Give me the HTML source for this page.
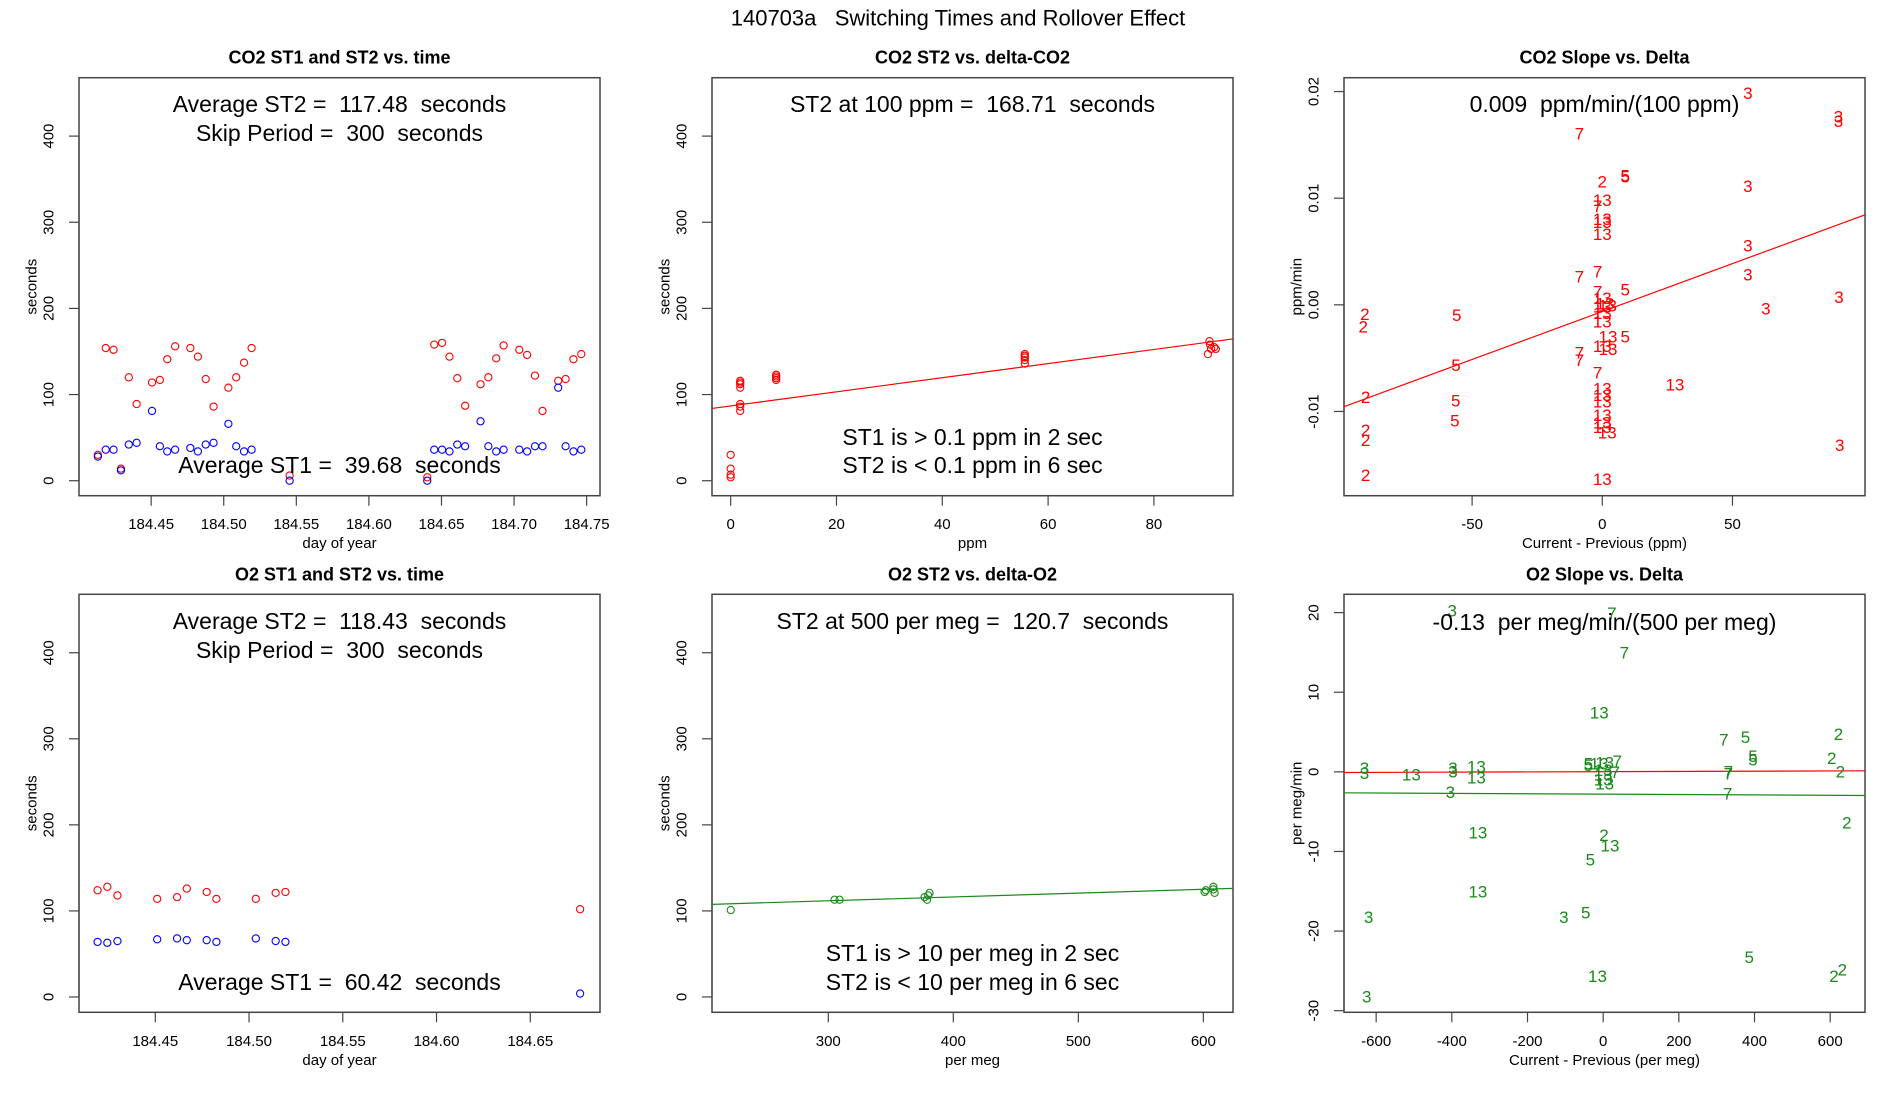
<!DOCTYPE html>
<html><head><meta charset="utf-8"><title>140703a Switching Times and Rollover Effect</title>
<style>
html,body{margin:0;padding:0;background:#fff;}
svg{display:block;font-family:"Liberation Sans",Arial,sans-serif;}
svg text{white-space:pre;}
</style></head>
<body>
<svg id="fig" width="1900" height="1100" viewBox="0 0 1900 1100" xmlns="http://www.w3.org/2000/svg" xml:space="preserve">
<rect x="0" y="0" width="1900" height="1100" fill="#fff"/>
<text x="958" y="18" font-size="22" text-anchor="middle" dominant-baseline="central">140703a   Switching Times and Rollover Effect</text>
</svg>
<script>
// ---------- data ----------
const co2Days = [184.4133,184.4187,184.4241,184.4292,184.4346,184.4400,184.4506,184.4560,184.4611,184.4665,184.4770,184.4822,184.4876,184.4930,184.5032,184.5086,184.5140,184.5192,184.5454,184.6402,184.6450,184.6504,184.6555,184.6609,184.6663,184.6769,184.6823,184.6877,184.6928,184.7036,184.7090,184.7144,184.7196,184.7304,184.7355,184.7409,184.7463];
const co2St2 = [30,154,152,14,120,89,114,117,141,156,154,144,118,86,108,120,137,154,6,4,158,160,144,119,87,112,120,142,157,152,146,122,81,116,118,141,147];
const co2St1 = [28,36,36,12,42,44,81,40,34,36,38,34,42,44,66,40,34,36,0,0,36,36,34,42,40,69,40,34,36,36,34,40,40,108,40,34,36];

const o2Days = [184.4192,184.4244,184.4298,184.4510,184.4616,184.4668,184.4774,184.4826,184.5036,184.5142,184.5194,184.6766];
const o2St2 = [124,128,118,114,116,126,122,114,114,121,122,102];
const o2St1 = [64,63,65,67,68,66,66,64,68,65,64,4];

const co2Delta = [0,0,0,0,1.8,1.8,1.8,1.8,1.8,1.8,1.8,8.6,8.6,8.6,8.6,55.6,55.6,55.6,55.6,55.6,90.2,90.5,90.6,90.8,91.7,91.4];
const co2DeltaSt2 = [30,14,7,4,116,114,112,108,89,86,81,123,121,119,117,147,145,143,140,136,147,162,158,153,153,155];
const co2Fit = [86.8,0.819];

const o2Delta = [222,305,309,377,379,380,381,601,602,608,609,608];
const o2DeltaSt2 = [101,113,113,116,113,118,121,122,124,128,121,125];
const o2Fit = [120.7,0.0446,500];

const co2SlopeX = [55.9,90.7,90.7,-8.8,0,8.8,8.8,55.9,0,-1.8,0,0,0,55.9,-1.8,-8.8,55.9,8.8,-1.8,0,1,0,2,0,90.9,62.8,0,-55.9,-91.2,-91.8,2.2,8.8,0,2.2,-8.8,-8.8,-56.2,-1.8,27.9,0,0,0,-56.3,-90.9,0,0,0,1.9,-56.6,-90.9,-90.9,91.2,-90.9,0];
const co2SlopeY = [0.0198,0.0176,0.0172,0.0160,0.0115,0.0121,0.0120,0.0111,0.0098,0.0092,0.0080,0.0077,0.0066,0.0055,0.0031,0.0026,0.0028,0.0014,0.0012,0.0006,0.0001,-0.0002,-0.0001,-0.0008,0.0007,-0.0004,-0.0016,-0.0010,-0.0009,-0.0021,-0.0030,-0.0030,-0.0039,-0.0042,-0.0045,-0.0052,-0.0057,-0.0064,-0.0075,-0.0079,-0.0085,-0.0091,-0.0090,-0.0087,-0.0104,-0.0111,-0.0115,-0.0120,-0.0109,-0.0118,-0.0127,-0.0132,-0.0160,-0.0164];
const co2SlopeLab = ["3","3","3","7","2","5","5","3","13","7","13","13","13","3","7","7","3","5","7","13","13","13","13","13","3","3","13","5","2","2","13","5","13","13","7","7","5","7","13","13","13","13","5","2","13","13","13","13","5","2","2","3","2","13"];
const co2SlopeFit = [-0.00063,0.0000899];

const o2SlopeX = [-399,23,56,-10.5,622,319,376,396,396,604,-39,-39,-10.5,4,37,32,0,0,0,4,-631,-631,-507,-397,-397,-335,-335,331,331,627,-404,329,644,-331,2,18,-34,-331,-620,-104,-46,386,610,632,-15,-625];
const o2SlopeY = [20.2,19.9,14.9,7.4,4.7,4.0,4.3,1.9,1.5,1.7,1.0,0.8,1.0,1.1,1.3,-0.1,0.2,-0.4,-1.0,-1.5,0.4,-0.2,-0.4,0.4,0,0.6,-0.8,0,-0.3,0,-2.6,-2.8,-6.4,-7.7,-8.0,-9.3,-11.1,-15.1,-18.3,-18.3,-17.7,-23.3,-25.7,-24.9,-25.7,-28.3];
const o2SlopeLab = ["3","7","7","13","2","7","5","5","5","2","5","5","13","13","7","7","13","13","13","13","3","3","13","3","3","13","13","7","7","2","3","7","2","13","2","13","5","13","3","3","5","5","2","2","13","3"];
const o2SlopeFitRed = [0.024,0.000152];
const o2SlopeFitGreen = [-2.80,-0.00024];

const timeTicks = [184.45,184.50,184.55,184.60,184.65,184.70,184.75];
const timeTicks2 = [184.45,184.50,184.55,184.60,184.65];
const secTicks = [0,100,200,300,400];
const ppmTicks = [0,20,40,60,80];
const permegTicks = [300,400,500,600];
const co2SlopeXTicks = [-50,0,50];
const co2SlopeYTicks = [-0.01,0,0.01,0.02];
const co2SlopeYLabels = ["-0.01","0.00","0.01","0.02"];
const o2SlopeXTicks = [-600,-400,-200,0,200,400,600];
const o2SlopeYTicks = [-30,-20,-10,0,10,20];

// ---------- drawing ----------
const NS = "http://www.w3.org/2000/svg";
const svg = document.getElementById('fig');
const RED = "#ff0000", BLUE = "#0000ff", GREEN = "#1a8a1a";
function mk(tag, attrs, parent){ const e = document.createElementNS(NS, tag); for (const k in attrs) e.setAttribute(k, attrs[k]); (parent||svg).appendChild(e); return e; }

const COLS = [79, 712, 1344], W = 521;
const ROWS = [77.7, 594.3], H = 418;

function panel(col, row, xr, yr, name){
  const p = {L: COLS[col], R: COLS[col]+W, T: ROWS[row], B: ROWS[row]+H, xr, yr};
  p.sx = v => p.L + (v - xr[0])/(xr[1]-xr[0])*(p.R-p.L);
  p.sy = v => p.B - (v - yr[0])/(yr[1]-yr[0])*(p.B-p.T);
  p.g = mk('g', {});
  
  
  return p;
}
function frame(p, title, xlab, ylab, xticks, yticks, xlabels, ylabels){
  const g = p.g;
  const t = mk('text', {x:(p.L+p.R)/2, y:p.T-20, 'font-size':18, 'font-weight':'bold', 'text-anchor':'middle', 'dominant-baseline':'central'}, g);
  t.textContent = title;
  
  
  const b = mk('rect', {x:p.L, y:p.T, width:W, height:H, fill:'none', stroke:'#444', 'stroke-width':1.5}, g);
  
  
  const xa = mk('g', {}, g);
  
  
  mk('line', {x1:p.sx(xticks[0]), x2:p.sx(xticks[xticks.length-1]), y1:p.B, y2:p.B, stroke:'#444', 'stroke-width':1.2}, xa);
  xticks.forEach((v,i)=>{
    mk('line', {x1:p.sx(v), x2:p.sx(v), y1:p.B, y2:p.B+10, stroke:'#444', 'stroke-width':1.2}, xa);
    const tl = mk('text', {x:p.sx(v), y:p.B+29, 'font-size':15, 'text-anchor':'middle', 'dominant-baseline':'central'}, xa);
    tl.textContent = xlabels ? xlabels[i] : String(v);
    
    
  });
  const xl = mk('text', {x:(p.L+p.R)/2, y:p.B+48, 'font-size':15, 'text-anchor':'middle', 'dominant-baseline':'central'}, g);
  xl.textContent = xlab;
  
  
  const ya = mk('g', {}, g);
  
  
  mk('line', {x1:p.L, x2:p.L, y1:p.sy(yticks[0]), y2:p.sy(yticks[yticks.length-1]), stroke:'#444', 'stroke-width':1.2}, ya);
  yticks.forEach((v,i)=>{
    const y = p.sy(v);
    mk('line', {x1:p.L-10, x2:p.L, y1:y, y2:y, stroke:'#444', 'stroke-width':1.2}, ya);
    const tl = mk('text', {x:p.L-30, y:y, 'font-size':15, 'text-anchor':'middle', 'dominant-baseline':'central', transform:`rotate(-90 ${p.L-30} ${y})`}, ya);
    tl.textContent = ylabels ? ylabels[i] : String(v);
    
    
  });
  const yc = (p.T+p.B)/2;
  const yl = mk('text', {x:p.L-47, y:yc, 'font-size':15, 'text-anchor':'middle', 'dominant-baseline':'central', transform:`rotate(-90 ${p.L-47} ${yc})`}, g);
  yl.textContent = ylab;
  
  
}
function note(p, y, txt){
  const t = mk('text', {x:(p.L+p.R)/2, y:y, 'font-size':23, 'text-anchor':'middle', 'dominant-baseline':'central'}, p.g);
  t.textContent = txt;
  
  
}
function circles(p, xs, ys, color, name){
  const g = mk('g', {}, p.g);
  
  
  xs.forEach((x,i)=>{
    const c = mk('circle', {cx:p.sx(x), cy:p.sy(ys[i]), r:3.6, fill:'none', stroke:color, 'stroke-width':1.1}, g);
    
    
  });
}
function labels(p, xs, ys, labs, color, name){
  const g = mk('g', {}, p.g);
  
  
  xs.forEach((x,i)=>{
    const t = mk('text', {x:p.sx(x), y:p.sy(ys[i]), 'font-size':17, fill:color, 'text-anchor':'middle', 'dominant-baseline':'central'}, g);
    t.textContent = labs[i];
    
    
  });
}
function fitLine(p, f, color, name){
  const x0 = p.xr[0], x1 = p.xr[1];
  const ln = mk('line', {x1:p.sx(x0), y1:p.sy(f(x0)), x2:p.sx(x1), y2:p.sy(f(x1)), stroke:color, 'stroke-width':1.2}, p.g);
  
  
}

const p1 = panel(0, 0, [184.4003,184.7592], [-17.4,467.8], 'co2-time-panel');
frame(p1, 'CO2 ST1 and ST2 vs. time', 'day of year', 'seconds', timeTicks, secTicks, timeTicks.map(v=>v.toFixed(2)));
circles(p1, co2Days, co2St2, RED, 'co2-st2-series');
circles(p1, co2Days, co2St1, BLUE, 'co2-st1-series');
note(p1, 104, 'Average ST2 =  117.48  seconds');
note(p1, 133, 'Skip Period =  300  seconds');
note(p1, 465, 'Average ST1 =  39.68  seconds');

const p2 = panel(1, 0, [-3.53,94.95], [-17.4,467.8], 'co2-delta-panel');
frame(p2, 'CO2 ST2 vs. delta-CO2', 'ppm', 'seconds', ppmTicks, secTicks);
circles(p2, co2Delta, co2DeltaSt2, RED, 'co2-delta-series');
fitLine(p2, x => co2Fit[0] + co2Fit[1]*x, RED, 'co2-fit-line');
note(p2, 104, 'ST2 at 100 ppm =  168.71  seconds');
note(p2, 437, 'ST1 is > 0.1 ppm in 2 sec');
note(p2, 465, 'ST2 is < 0.1 ppm in 6 sec');

const p3 = panel(2, 0, [-99.2,100.9], [-0.0179,0.0213], 'co2-slope-panel');
frame(p3, 'CO2 Slope vs. Delta', 'Current - Previous (ppm)', 'ppm/min', co2SlopeXTicks, co2SlopeYTicks, null, co2SlopeYLabels);
fitLine(p3, x => co2SlopeFit[0] + co2SlopeFit[1]*x, RED, 'co2-slope-fit-line');
labels(p3, co2SlopeX, co2SlopeY, co2SlopeLab, RED, 'co2-slope-labels');
note(p3, 104, '0.009  ppm/min/(100 ppm)');

const p4 = panel(0, 1, [184.4093,184.6872], [-17.8,467.9], 'o2-time-panel');
frame(p4, 'O2 ST1 and ST2 vs. time', 'day of year', 'seconds', timeTicks2, secTicks, timeTicks2.map(v=>v.toFixed(2)));
circles(p4, o2Days, o2St2, RED, 'o2-st2-series');
circles(p4, o2Days, o2St1, BLUE, 'o2-st1-series');
note(p4, 621, 'Average ST2 =  118.43  seconds');
note(p4, 650, 'Skip Period =  300  seconds');
note(p4, 982, 'Average ST1 =  60.42  seconds');

const p5 = panel(1, 1, [207.0,623.7], [-17.8,467.9], 'o2-delta-panel');
frame(p5, 'O2 ST2 vs. delta-O2', 'per meg', 'seconds', permegTicks, secTicks);
circles(p5, o2Delta, o2DeltaSt2, GREEN, 'o2-delta-series');
fitLine(p5, x => o2Fit[0] + o2Fit[1]*(x - o2Fit[2]), GREEN, 'o2-fit-line');
note(p5, 621, 'ST2 at 500 per meg =  120.7  seconds');
note(p5, 953, 'ST1 is > 10 per meg in 2 sec');
note(p5, 982, 'ST2 is < 10 per meg in 6 sec');

const p6 = panel(2, 1, [-685,692], [-30.2,22.3], 'o2-slope-panel');
frame(p6, 'O2 Slope vs. Delta', 'Current - Previous (per meg)', 'per meg/min', o2SlopeXTicks, o2SlopeYTicks);
fitLine(p6, x => o2SlopeFitRed[0] + o2SlopeFitRed[1]*x, RED, 'o2-slope-zero-line');
fitLine(p6, x => o2SlopeFitGreen[0] + o2SlopeFitGreen[1]*x, GREEN, 'o2-slope-fit-line');
labels(p6, o2SlopeX, o2SlopeY, o2SlopeLab, GREEN, 'o2-slope-labels');
note(p6, 622, '-0.13  per meg/min/(500 per meg)');
</script>
</body></html>
